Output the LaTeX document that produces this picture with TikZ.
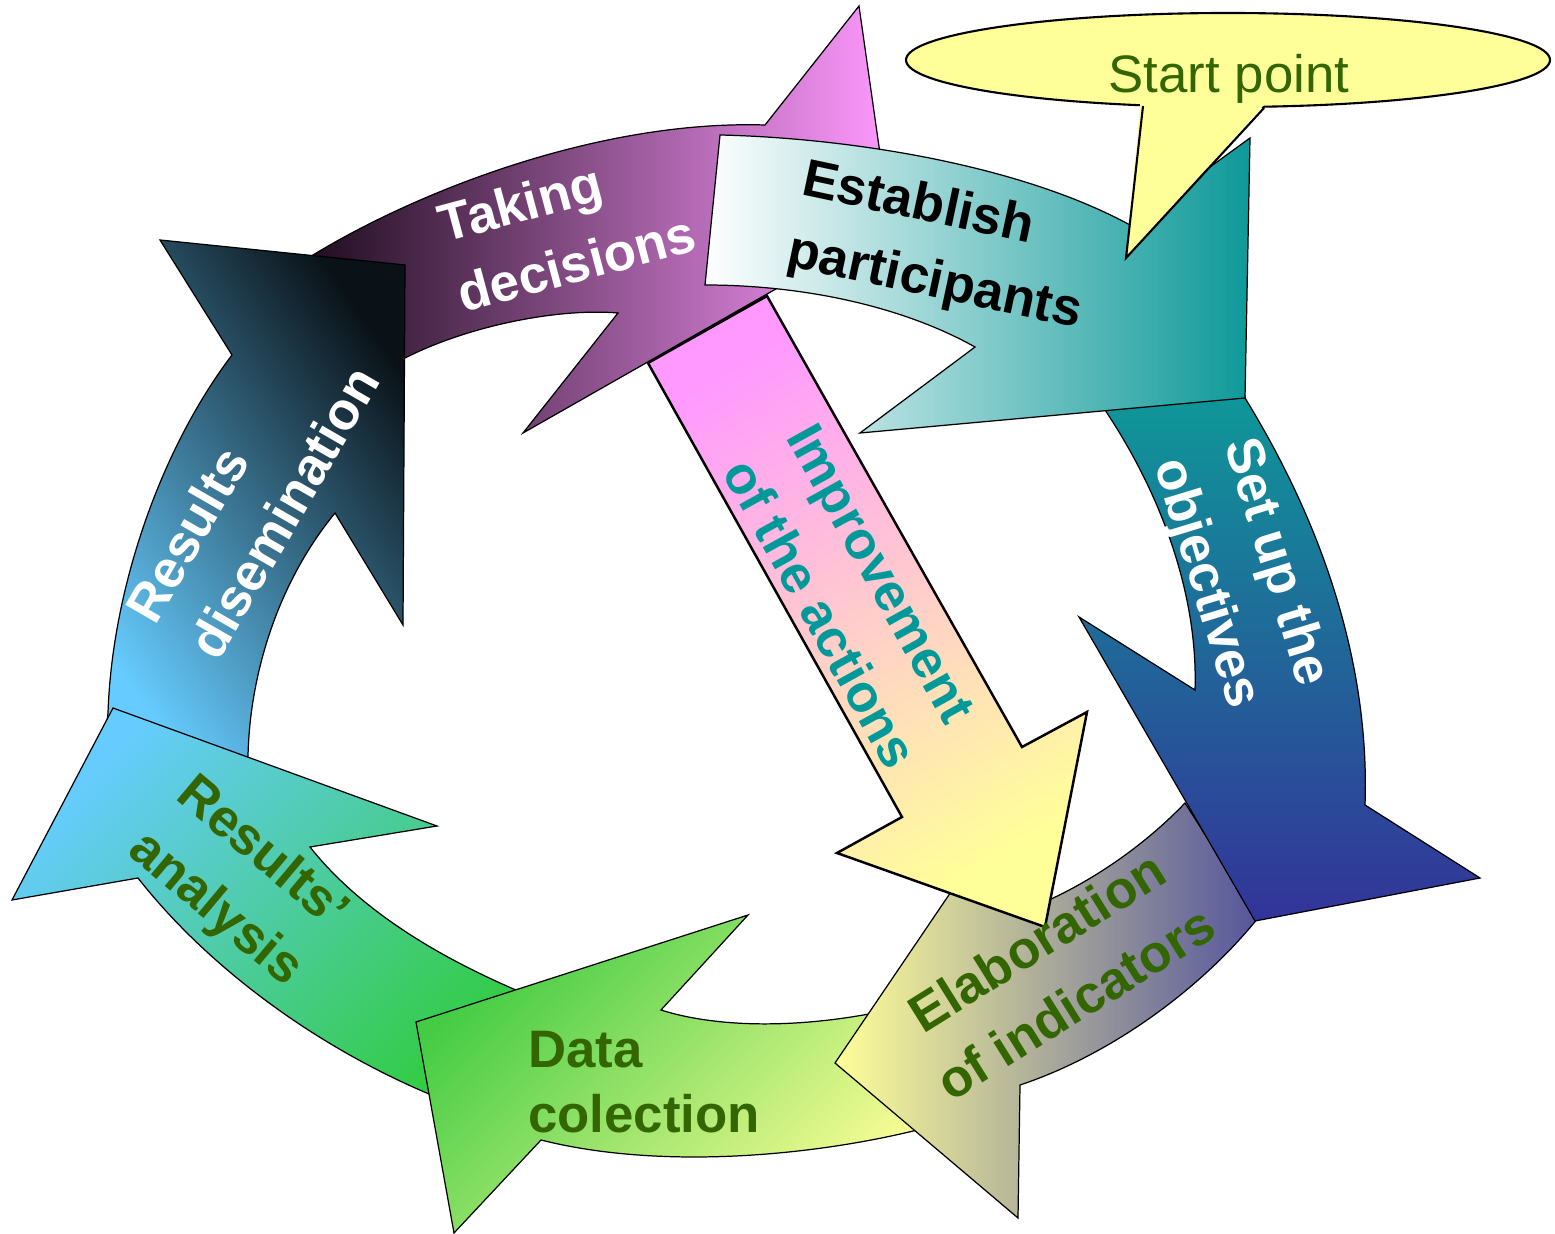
\documentclass[tikz,border=0pt]{standalone}
\usepackage{fontspec}
\setmainfont{Liberation Sans}

\definecolor{dkgreen}{HTML}{336600}
\definecolor{tealtxt}{HTML}{009999}
\definecolor{pinkish}{HTML}{FF99FF}
\definecolor{paleyel}{HTML}{FFFF99}
\definecolor{tealarr}{HTML}{0E9999}
\definecolor{inkblue}{HTML}{333399}
\definecolor{plumdark}{HTML}{1C0B1C}
\definecolor{skyblue}{HTML}{66CCFF}
\definecolor{grassgrn}{HTML}{33CC44}
\definecolor{leafgrn}{HTML}{44CC44}
\definecolor{slate}{HTML}{55559C}
\definecolor{nightblue}{HTML}{0A1218}
\definecolor{midblue}{HTML}{3F86AD}

\begin{document}
\begin{tikzpicture}[x=0.01cm, y=-0.01cm,
    band/.style={draw=black, line width=0.35pt, line join=miter},
    lbl/.style={font=\fontsize{15}{20.7}\selectfont\bfseries, inner sep=0pt}]
\useasboundingbox (0,0) rectangle (1555,1234);

% Taking decisions
\path[band, left color=plumdark, right color=pinkish]
  (300,262) -- (313,255) .. controls (420,190) and (600,120) .. (765,125)
  -- (859,6) -- (890,224) -- (523,433) -- (618,313)
  .. controls (560,308) and (470,325) .. (405,358) -- (398,362) -- cycle;

% Results disemination
\path[band, top color=nightblue, middle color=midblue, bottom color=skyblue, shading angle=-55]
  (105,740) -- (108,713) .. controls (112,590) and (160,450) .. (232,355)
  -- (160,240) -- (405,265) -- (403,625) -- (335,513)
  .. controls (280,580) and (250,670) .. (248,756) -- (245,790) -- cycle;

% Results' analysis
\path[band, top color=skyblue, bottom color=grassgrn, shading angle=45]
  (540,1000) .. controls (440,960) and (360,910) .. (310,847)
  -- (437,826) -- (113,708) -- (12,900) -- (138,878)
  .. controls (210,970) and (330,1060) .. (470,1110) -- cycle;

% Data colection
\path[band, top color=leafgrn, bottom color=paleyel, shading angle=45]
  (960,990) -- (960,1118) .. controls (860,1150) and (680,1175) .. (541,1140)
  -- (454,1233) -- (416,1022) -- (748,915) -- (661,1010)
  .. controls (740,1035) and (860,1025) .. (960,990) -- cycle;

% Elaboration of indicators
\path[band, left color=paleyel, right color=slate]
  (1185,803) -- (1258,918) .. controls (1200,990) and (1110,1055) .. (1020,1085)
  -- (1018,1218) -- (835,1063) -- (1020,790) -- (1020,912)
  .. controls (1080,890) and (1140,850) .. (1185,803) -- cycle;

% Set up the objectives
\path[band, top color=tealarr, bottom color=inkblue]
  (1100,396) -- (1243,384) -- (1245,398) .. controls (1320,520) and (1370,660) .. (1365,805)
  -- (1480,878) -- (1255,921) -- (1079,617) -- (1195,690)
  .. controls (1198,600) and (1165,500) .. (1105,410) -- cycle;

% Establish participants
\path[band, left color=white, right color=tealarr]
  (720,135) .. controls (850,138) and (1020,165) .. (1130,225)
  -- (1250,138) -- (1245,398) -- (860,433) -- (975,347)
  .. controls (900,305) and (800,285) .. (705,285) -- cycle;

% Improvement of the actions (straight arrow)
\path[draw=black, line width=0.7pt, line join=miter, top color=pinkish, bottom color=paleyel, shading angle=30]
  (648,363) -- (767,296) -- (1022,747) -- (1087,712) -- (1045,927)
  -- (837,853) -- (902,817) -- cycle;

% Start point callout
\draw[fill=paleyel, line width=0.6pt] (1228,60) ellipse [x radius=322, y radius=47];
\fill[paleyel] (1141,95) -- (1126,258) -- (1273,95) -- cycle;
\draw[line width=0.6pt, line join=miter] (1143,106) -- (1126,258) -- (1264,108);

% Labels
\node[lbl, text=white, rotate=15, align=left] (taking) at (567,228) {Taking\\decisions};
\node[lbl, text=black, rotate=-12, align=left] (establish) at (942,248) {Establish\\participants};
\node[lbl, text=white, rotate=-73, align=center] (setup) at (1240,573) {Set up the\\objectives};
\node[lbl, text=tealtxt, rotate=-61, align=left] (improve) at (852,596) {Improvement\\of the actions};
\node[lbl, text=dkgreen, rotate=32, align=center] (elab) at (1056,972) {Elaboration\\of indicators};
\node[lbl, text=dkgreen, align=left, font=\fontsize{15}{18.5}\selectfont\bfseries] (data) at (644,1082) {Data\\colection};
\node[lbl, text=dkgreen, rotate=-40, align=center] (analysis) at (238,882) {Results’\\analysis};
\node[lbl, text=white, rotate=60, align=left] (dissem) at (252,494) {Results\\disemination};
\node[font=\fontsize{15}{18}\selectfont, text=dkgreen, anchor=base, inner sep=0pt] (start) at (1229,93) {Start point};

\end{tikzpicture}
\end{document}
